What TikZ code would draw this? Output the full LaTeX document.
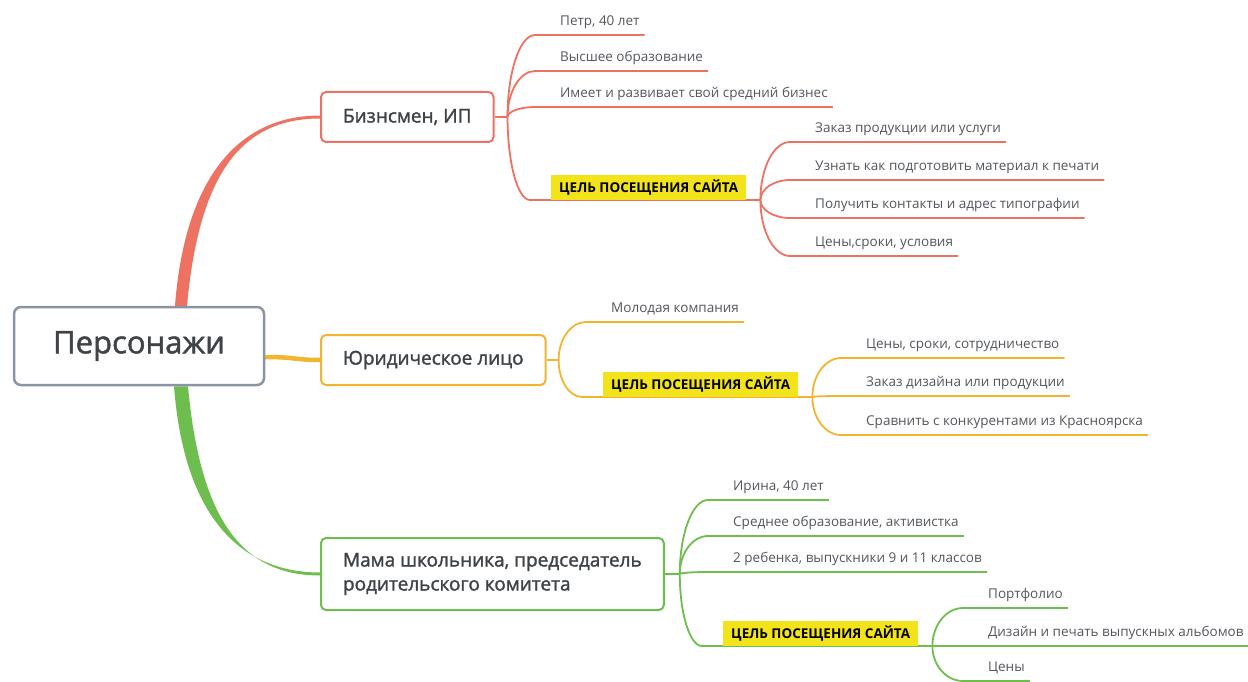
\documentclass[tikz,border=0pt]{standalone}
\usepackage{fontspec}
\setmainfont{Open Sans}
\newfontfamily\topicfont[FakeBold=1.5]{Open Sans}
\usetikzlibrary{backgrounds,calc}

\definecolor{redbr}{HTML}{EE7262}
\definecolor{orangebr}{HTML}{F2B530}
\definecolor{greenbr}{HTML}{6DBE4F}
\definecolor{goalfill}{HTML}{F2E31B}
\definecolor{leaftext}{HTML}{52575D}
\definecolor{boxtext}{HTML}{3E4348}
\definecolor{rootline}{HTML}{8A94A3}

\begin{document}
\begin{tikzpicture}[x=1pt,y=-1pt,
    root/.style={draw=rootline, line width=2.5pt, rounded corners=7pt, fill=white,
        minimum width=250pt, minimum height=78pt, font=\topicfont\fontsize{31}{36}\selectfont, text=boxtext},
    topic/.style={draw=#1, line width=2pt, rounded corners=5pt, fill=white, anchor=west,
        inner xsep=22pt, minimum height=50pt, align=left,
        font=\topicfont\fontsize{19}{24}\selectfont, text=boxtext},
    leaf/.style={anchor=south west, inner sep=0pt, text depth=9.5pt,
        font=\fontsize{13.5}{16}\selectfont, text=leaftext,
        execute at begin node={\hspace*{25pt}}, execute at end node={\hspace*{5pt}}},
    goal/.style={anchor=south west, fill=goalfill, inner xsep=8pt, inner ysep=0pt,
        text height=18pt, text depth=7pt, font=\fontsize{13.5}{16}\selectfont\bfseries},
    wire/.style={draw=#1, line width=1.8pt},
    branch/.style={to path={.. controls ($(\tikztostart)!0.55!(\tikztostart |- \tikztotarget)$)
        and ($(\tikztotarget)!0.55!(\tikztostart |- \tikztotarget)$) .. (\tikztotarget)}},
]
    \useasboundingbox (0,0) rectangle (1248,682);

    % Draw central node
    \node[root] (root) at (139,346) {Персонажи};

    % Draw the three characters
    \node[topic=redbr] (biz) at (320,117) {Бизнсмен, ИП};
    \node[topic=orangebr] (jur) at (320,360) {Юридическое лицо};
    \node[topic=greenbr, minimum height=72pt] (mom) at (320,574)
        {Мама школьника, председатель\\родительского комитета};

    % Branch points
    \coordinate (b1) at ([xshift=13pt]biz.east);
    \coordinate (b2) at ([xshift=12pt]jur.east);
    \coordinate (b3) at ([xshift=15pt]mom.east);

    % Businessman: facts and goals
    \node[leaf] (petr) at (535,35) {Петр, 40 лет};
    \node[leaf] (educ) at (535,71) {Высшее образование};
    \node[leaf] (own) at (535,107) {Имеет и развивает свой средний бизнес};
    \node[goal] (goal1) at (551,200) {ЦЕЛЬ ПОСЕЩЕНИЯ САЙТА};
    \coordinate (s1) at ([xshift=-21pt]goal1.south west);
    \coordinate (g1) at ([xshift=14pt]goal1.south east);
    \node[leaf] (order) at (790,142) {Заказ продукции или услуги};
    \node[leaf] (learn) at (790,180) {Узнать как подготовить материал к печати};
    \node[leaf] (cont) at (790,218) {Получить контакты и адрес типографии};
    \node[leaf] (price1) at (790,256) {Цены,сроки, условия};

    % Company: facts and goals
    \node[leaf] (young) at (586,322) {Молодая компания};
    \node[goal] (goal2) at (603,397) {ЦЕЛЬ ПОСЕЩЕНИЯ САЙТА};
    \coordinate (s2) at ([xshift=-21pt]goal2.south west);
    \coordinate (g2) at ([xshift=14pt]goal2.south east);
    \node[leaf] (price2) at (841,358) {Цены, сроки, сотрудничество};
    \node[leaf] (design) at (841,396) {Заказ дизайна или продукции};
    \node[leaf] (comp) at (841,435) {Сравнить с конкурентами из Красноярска};

    % Mother: facts and goals
    \node[leaf] (irina) at (708,500) {Ирина, 40 лет};
    \node[leaf] (mid) at (708,536) {Среднее образование, активистка};
    \node[leaf] (kids) at (708,572) {2 ребенка, выпускники 9 и 11 классов};
    \node[goal] (goal3) at (723,646) {ЦЕЛЬ ПОСЕЩЕНИЯ САЙТА};
    \coordinate (s3) at ([xshift=-21pt]goal3.south west);
    \coordinate (g3) at ([xshift=14pt]goal3.south east);
    \node[leaf] (folio) at (963,608) {Портфолио};
    \node[leaf] (album) at (963,646) {Дизайн и печать выпускных альбомов};
    \node[leaf] (price3) at (963,681) {Цены};

    \begin{pgfonlayer}{background}
    % Draw main trunks
    \fill[redbr] ([xshift=36pt]root.north) .. controls +(10,-130) and +(-80,0) .. ([yshift=1.5pt]biz.west)
        -- ([yshift=-1.5pt]biz.west) .. controls +(-80,0) and +(12,-130) .. ([xshift=48pt]root.north) -- cycle;
    \draw[orangebr, line width=4.5pt] ([yshift=-11pt]root.east) .. controls +(30,0) and +(-25,0) .. (jur.west);
    \fill[greenbr] ([xshift=35pt]root.south) .. controls +(10,130) and +(-80,0) .. ([yshift=1.5pt]mom.west)
        -- ([yshift=-1.5pt]mom.west) .. controls +(-80,0) and +(12,130) .. ([xshift=49pt]root.south) -- cycle;

    % Draw red branches
    \draw[wire=redbr] (biz.east) -- (b1);
    \draw[wire=redbr] (b1) to[branch] (petr.south west) -- (petr.south east);
    \draw[wire=redbr] (b1) to[branch] (educ.south west) -- (educ.south east);
    \draw[wire=redbr] (b1) to[branch] (own.south west) -- (own.south east);
    \draw[wire=redbr] (b1) to[branch] (s1) -- (g1);
    \draw[wire=redbr] (g1) to[branch] (order.south west) -- (order.south east);
    \draw[wire=redbr] (g1) to[branch] (learn.south west) -- (learn.south east);
    \draw[wire=redbr] (g1) to[branch] (cont.south west) -- (cont.south east);
    \draw[wire=redbr] (g1) to[branch] (price1.south west) -- (price1.south east);

    % Draw orange branches
    \draw[wire=orangebr] (jur.east) -- (b2);
    \draw[wire=orangebr] (b2) to[branch] (young.south west) -- (young.south east);
    \draw[wire=orangebr] (b2) to[branch] (s2) -- (g2);
    \draw[wire=orangebr] (g2) to[branch] (price2.south west) -- (price2.south east);
    \draw[wire=orangebr] (g2) to[branch] (design.south west) -- (design.south east);
    \draw[wire=orangebr] (g2) to[branch] (comp.south west) -- (comp.south east);

    % Draw green branches
    \draw[wire=greenbr] (mom.east) -- (b3);
    \draw[wire=greenbr] (b3) to[branch] (irina.south west) -- (irina.south east);
    \draw[wire=greenbr] (b3) to[branch] (mid.south west) -- (mid.south east);
    \draw[wire=greenbr] (b3) to[branch] (kids.south west) -- (kids.south east);
    \draw[wire=greenbr] (b3) to[branch] (s3) -- (g3);
    \draw[wire=greenbr] (g3) to[branch] (folio.south west) -- (folio.south east);
    \draw[wire=greenbr] (g3) to[branch] (album.south west) -- (album.south east);
    \draw[wire=greenbr] (g3) to[branch] (price3.south west) -- (price3.south east);
    \end{pgfonlayer}

\end{tikzpicture}
\end{document}
